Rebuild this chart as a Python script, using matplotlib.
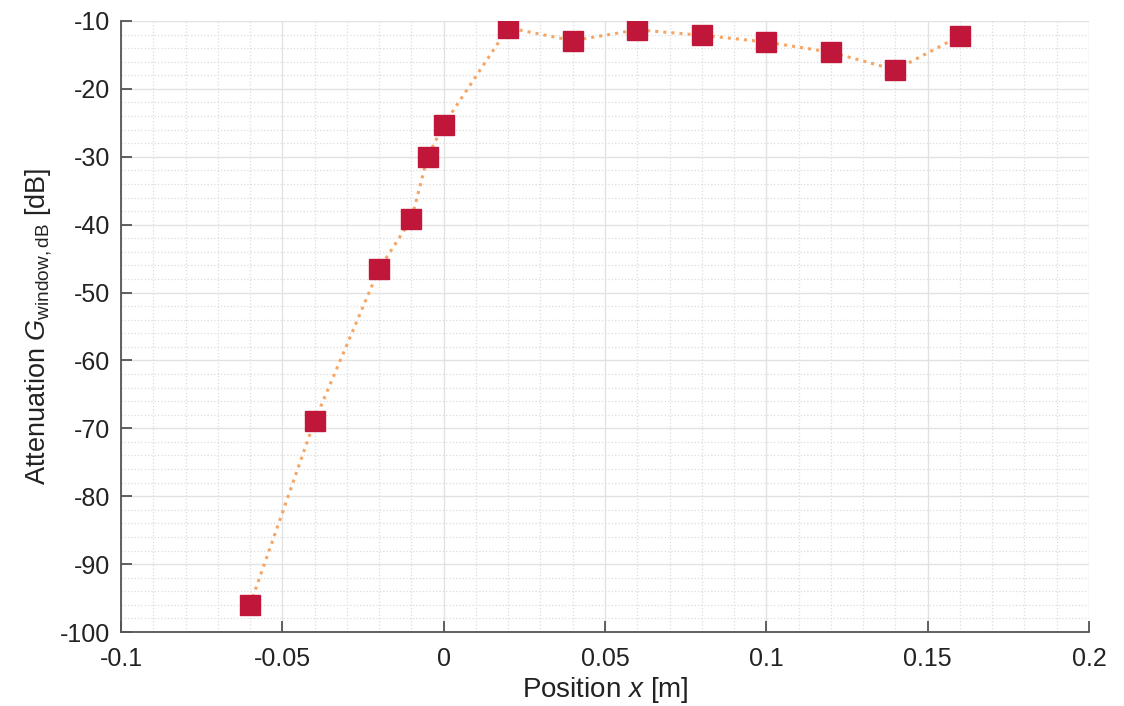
import numpy as np
import matplotlib
matplotlib.use('Agg')
import matplotlib.pyplot as plt
from matplotlib.ticker import MultipleLocator

plt.rcParams['font.family'] = ['Liberation Sans', 'DejaVu Sans']
plt.rcParams['mathtext.fontset'] = 'custom'
plt.rcParams['mathtext.rm'] = 'Liberation Sans'
plt.rcParams['mathtext.it'] = 'Liberation Sans:italic'
plt.rcParams['axes.unicode_minus'] = False

# measured positions and attenuation
position = [-0.06, -0.04, -0.02, -0.01, -0.005, 0.0, 0.02, 0.04, 0.06, 0.08, 0.10, 0.12, 0.14, 0.16]
attenuation = [-96.0, -68.9, -46.5, -39.2, -30.0, -25.3, -11.0, -12.9, -11.3, -12.1, -13.1, -14.6, -17.2, -12.2]

x_ticks = [-0.1, -0.05, 0, 0.05, 0.1, 0.15, 0.2]
x_tick_labels = ['-0.1', '-0.05', '0', '0.05', '0.1', '0.15', '0.2']
y_ticks = list(range(-100, 0, 10))

fig = plt.figure(figsize=(11.24, 7.06), dpi=100)
ax = fig.add_axes([121 / 1124, 1 - 632 / 706, (1089 - 121) / 1124, (632 - 21) / 706])

ax.plot(position, attenuation, linestyle=':', color='#F5A564', linewidth=2.2, zorder=3)
ax.plot(position, attenuation, linestyle='none', marker='s', markersize=14,
        markerfacecolor='#C0163A', markeredgecolor='#C0163A', zorder=4)

ax.set_xlim(-0.1, 0.2)
ax.set_ylim(-100, -10)
ax.set_xticks(x_ticks)
ax.set_xticklabels(x_tick_labels)
ax.set_yticks(y_ticks)
ax.xaxis.set_minor_locator(MultipleLocator(0.01))
ax.yaxis.set_minor_locator(MultipleLocator(2))

ax.grid(which='major', color='#E2E2E2', linewidth=1.0, linestyle='-')
ax.grid(which='minor', color='#DCDCDC', linewidth=0.9, linestyle=':')
ax.set_axisbelow(True)

for s in ['top', 'right']:
    ax.spines[s].set_visible(False)
for s in ['left', 'bottom']:
    ax.spines[s].set_color('#555555')
    ax.spines[s].set_linewidth(1.3)

ax.tick_params(which='major', direction='in', length=8, width=1.3, color='#555555',
               labelsize=18, labelcolor='#222222')
ax.tick_params(axis='x', which='major', pad=11)
ax.tick_params(axis='y', which='major', pad=8)
ax.tick_params(which='minor', length=0)

ax.set_xlabel('Position $x$ [m]', fontsize=20, color='#222222', labelpad=3)
ax.set_ylabel('Attenuation $G_{\\mathrm{window,dB}}$ [dB]', fontsize=19.5, color='#222222', labelpad=4)

plt.savefig('out.png', dpi=100)
